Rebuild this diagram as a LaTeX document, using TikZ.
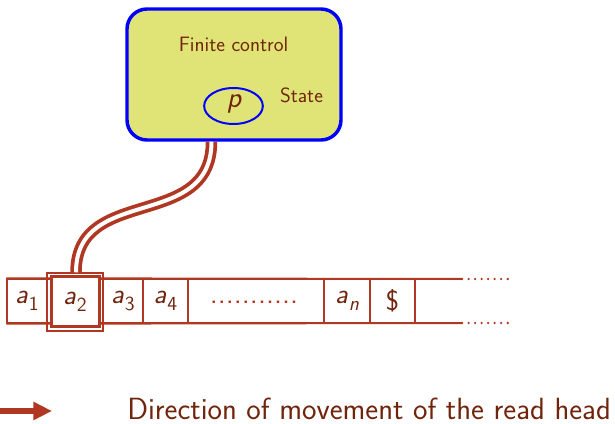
\documentclass[tikz,border=0pt]{standalone}
\usetikzlibrary{calc,arrows.meta,shapes.geometric}
\definecolor{brick}{RGB}{176,56,34}
\definecolor{txt}{RGB}{112,36,12}
\definecolor{ctrlfill}{RGB}{224,228,118}
\definecolor{ctrlblue}{RGB}{0,0,255}
\newcommand{\symA}[1]{\textit{a}\kern0.5pt\raisebox{-0.25em}{\fontsize{15}{15}\selectfont #1}}
\begin{document}
\begin{tikzpicture}[x=0.75pt,y=-0.75pt,font=\sffamily,
  tapeline/.style={draw=brick,line width=1.5pt},
  cell/.style={draw=brick,line width=1.1pt,inner sep=0pt,minimum height=33pt,text=txt,font=\sffamily\fontsize{21}{21}\selectfont},
  dotline/.style={draw=brick,line width=1.9pt,line cap=round,dash pattern=on 0pt off 4.9pt},
  cable/.style={draw=brick,line width=2.8pt,double=white,double distance=3pt}]
\useasboundingbox (0,0) rectangle (615,424);
% finite control
\node[draw=ctrlblue,fill=ctrlfill,line width=2.6pt,rounded corners=15pt,minimum width=160.5pt,minimum height=98.25pt,inner sep=0pt] (fc) at (234,74.5) {};
\node[text=txt,font=\sffamily\fontsize{15.6}{15.6}\selectfont,anchor=base] (fct) at (233.5,51.7) {Finite control};
\node[draw=ctrlblue,line width=1.5pt,ellipse,minimum width=44pt,minimum height=27pt,inner sep=0pt] (st) at (233.5,106) {};
\node[text=txt,font=\sffamily\itshape\fontsize{22}{22}\selectfont] (p) at (234,104) {p};
\node[text=txt,font=\sffamily\fontsize{15.5}{15.5}\selectfont,anchor=base] (stt) at (301.5,102.3) {State};
% tape cells
\node[cell,minimum width=30pt] (c1) at (27,301) {\symA{1}};
\node[cell,minimum width=42pt] (c2) at (75,301) {};
\node[cell,minimum width=30pt] (c3) at (123,301) {\symA{3}};
\node[cell,minimum width=33.75pt] (c4) at (165.5,301) {\symA{4}};
\node[cell,minimum width=102pt] (cd) at (256,301) {};
\node[text=brick,font=\sffamily\fontsize{23}{23}\selectfont] (dots) at (254,302) {...........};
\node[cell,minimum width=34.5pt] (cn) at (347,301) {\textit{a}\kern0.5pt\raisebox{-0.25em}{\fontsize{15}{15}\selectfont\itshape n}};
\node[cell,minimum width=33.75pt] (cs) at (392.5,301) {\$};
\coordinate (te) at (462,279);
\coordinate (be) at (462,323);
\coordinate (ted) at (508,279);
\coordinate (bed) at (508,323);
\draw[tapeline] (c1.north west) -- (te);
\draw[tapeline] (c1.south west) -- (be);
\draw[dotline] (te) -- (ted);
\draw[dotline] (be) -- (bed);
% read head
\node[draw=brick,line width=2.25pt,fill=white,minimum width=36pt,minimum height=37.5pt,inner sep=0pt,text=txt,font=\sffamily\fontsize{21}{21}\selectfont] (head) at (75,302) {\symA{2}};
\node[draw=brick,line width=1.1pt,minimum width=42pt,minimum height=43.5pt,inner sep=0pt] (headout) at (75,302) {};
% cable
\coordinate (cs0) at ($(fc.south)+(-22.5,0)$);
\coordinate (ce0) at ($(headout.north)+(1,0)$);
\draw[cable] (cs0) .. controls ($(cs0)+(0,90)$) and ($(ce0)+(0,-88)$) .. (ce0);
% legend arrow
\coordinate (a0) at (0,411);
\coordinate (a1) at (52,411);
\draw[brick,line width=5pt,-{Triangle[length=14pt,width=13pt]}] (a0) -- (a1);
\node[text=txt,font=\sffamily\fontsize{23}{23}\selectfont,anchor=base west,inner sep=0pt] (leg) at (127,420) {Direction of movement of the read head};
\end{tikzpicture}
\end{document}
